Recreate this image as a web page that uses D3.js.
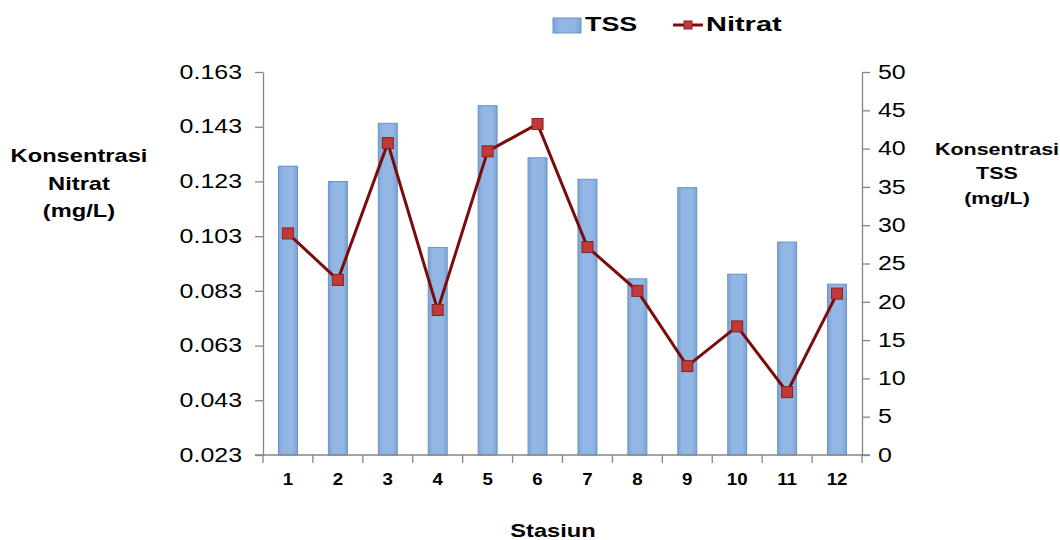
<!DOCTYPE html>
<html><head><meta charset="utf-8">
<script src="https://cdn.jsdelivr.net/npm/d3@7"></script>
<style>
body{margin:0;background:#fff;}
text{font-family:"Liberation Sans",Arial,sans-serif;fill:#000;}
</style></head>
<body><svg id="c" width="1060" height="540"></svg>
<script>
const stations = ["1","2","3","4","5","6","7","8","9","10","11","12"];
const tss = [37.7, 35.7, 43.3, 27.1, 45.6, 38.8, 36.0, 23.0, 34.9, 23.6, 27.8, 22.3];
const nitrat = [0.104, 0.087, 0.137, 0.076, 0.134, 0.144, 0.099, 0.083, 0.0555, 0.070, 0.046, 0.082];
const leftTicks = [0.023, 0.043, 0.063, 0.083, 0.103, 0.123, 0.143, 0.163];
const rightTicks = [0, 5, 10, 15, 20, 25, 30, 35, 40, 45, 50];

const SX = 1.28;
const svg = d3.select("#c");
const L = 263, R = 862, T = 72, B = 455;
const axisColor = "#868686";

const defs = svg.append("defs");
const grad = defs.append("linearGradient").attr("id","barg").attr("x1","0").attr("x2","1").attr("y1","0").attr("y2","0");
grad.append("stop").attr("offset","0").attr("stop-color","#7aa3d6");
grad.append("stop").attr("offset","0.25").attr("stop-color","#92b7e4");
grad.append("stop").attr("offset","0.75").attr("stop-color","#92b7e4");
grad.append("stop").attr("offset","1").attr("stop-color","#7aa3d6");

const x = d3.scaleBand().domain(stations).range([L, R]).padding(0);
const yL = d3.scaleLinear().domain([0.023, 0.163]).range([B, T]);
const yR = d3.scaleLinear().domain([0, 50]).range([B, T]);
const bw = x.bandwidth() * 0.38;

// bars
svg.append("g").selectAll("rect").data(tss).join("rect")
  .attr("x", (d,i) => x(stations[i]) + x.bandwidth()/2 - bw/2)
  .attr("y", d => yR(d))
  .attr("width", bw)
  .attr("height", d => B - yR(d))
  .attr("fill", "url(#barg)")
  .attr("stroke", "#6b93c6").attr("stroke-width", 1);

// axes
function styleAxis(g){
  g.selectAll("path,line").attr("stroke", axisColor).attr("stroke-width", 1.3);
}
const gl = svg.append("g").attr("transform", `translate(${L},0)`)
  .call(d3.axisLeft(yL).tickValues(leftTicks).tickFormat(d3.format(".3f")).tickSize(8).tickSizeOuter(0));
styleAxis(gl);
gl.selectAll("text").attr("font-size", 19.5).attr("fill","#000")
  .attr("x", -21/SX).attr("transform", `scale(${SX},1)`).attr("font-family","Liberation Sans, Arial, sans-serif");

const gr = svg.append("g").attr("transform", `translate(${R},0)`)
  .call(d3.axisRight(yR).tickValues(rightTicks).tickSize(8).tickSizeOuter(0));
styleAxis(gr);
gr.selectAll("text").attr("font-size", 19.5).attr("fill","#000")
  .attr("x", 16/SX).attr("transform", `scale(${SX},1)`).attr("font-family","Liberation Sans, Arial, sans-serif");

// x axis baseline and ticks at category boundaries
const gx = svg.append("g");
gx.append("line").attr("x1", L-8).attr("x2", R+8).attr("y1", B).attr("y2", B)
  .attr("stroke", axisColor).attr("stroke-width", 1.3);
const bounds = stations.map(s => x(s)).concat([x.range()[1]]);
gx.selectAll("line.t").data(bounds).join("line").attr("class","t")
  .attr("x1", d => d).attr("x2", d => d).attr("y1", B).attr("y2", B+8)
  .attr("stroke", axisColor).attr("stroke-width", 1.3);
gx.selectAll("g.lab").data(stations).join("g").attr("class","lab")
  .attr("transform", d => `translate(${x(d)+x.bandwidth()/2},485) scale(1.1,1)`)
  .append("text").attr("text-anchor","middle").attr("font-size", 17).attr("font-weight","bold").text(d => d);

// line
const line = d3.line().x((d,i) => x(stations[i]) + x.bandwidth()/2).y(d => yL(d));
svg.append("path").datum(nitrat).attr("d", line).attr("fill","none")
  .attr("stroke", "#7a0c0c").attr("stroke-width", 3).attr("stroke-linejoin","miter");
svg.append("g").selectAll("rect").data(nitrat).join("rect")
  .attr("x", (d,i) => x(stations[i]) + x.bandwidth()/2 - 5.5)
  .attr("y", d => yL(d) - 5.5)
  .attr("width", 11).attr("height", 11)
  .attr("fill", "#bf3b3b").attr("stroke", "#8e1f1f").attr("stroke-width", 1);

// text helper
function txt(str, tx, ty, size, anchor, sx){
  svg.append("g").attr("transform", `translate(${tx},${ty}) scale(${sx || SX},1)`)
    .append("text").attr("text-anchor", anchor || "middle").attr("font-size", size)
    .attr("font-weight","bold").text(str);
}
// left title
txt("Konsentrasi", 79, 162, 18.5);
txt("Nitrat", 79, 190, 18.5);
txt("(mg/L)", 79, 217, 18.5);
// right title
txt("Konsentrasi", 997, 155, 16.8);
txt("TSS", 997, 179, 16.8);
txt("(mg/L)", 997, 204, 16.8);
// x title
txt("Stasiun", 553, 537, 18.5);

// legend
svg.append("rect").attr("x", 553).attr("y", 18).attr("width", 28).attr("height", 15)
  .attr("fill", "url(#barg)").attr("stroke", "#6b93c6");
txt("TSS", 585, 31, 21, "start");
svg.append("line").attr("x1", 673).attr("x2", 703).attr("y1", 25).attr("y2", 25)
  .attr("stroke", "#7a0c0c").attr("stroke-width", 3);
svg.append("rect").attr("x", 684).attr("y", 21).attr("width", 8).attr("height", 8)
  .attr("fill", "#bf3b3b").attr("stroke", "#8e1f1f");
txt("Nitrat", 706, 31, 21, "start", 1.38);
</script></body></html>
